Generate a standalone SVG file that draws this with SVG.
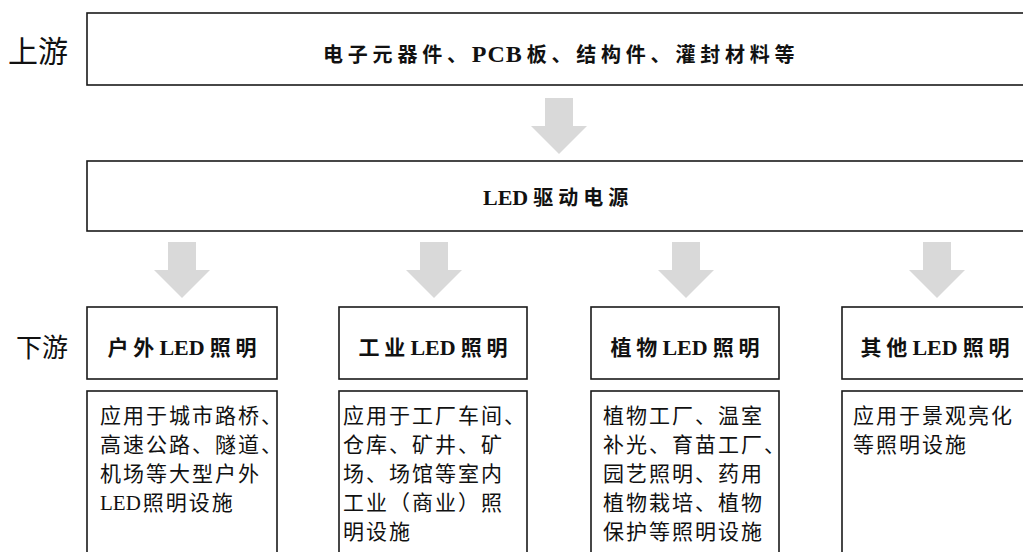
<svg xmlns="http://www.w3.org/2000/svg" width="1023" height="552" viewBox="0 0 1023 552">
<style>
.box{fill:#fff;stroke:#1a1a1a;stroke-width:1.6}
.arr{fill:#d9d9d9}
.side{font-family:"Noto Sans CJK SC",sans-serif;fill:#111}
.hd{font-family:"Liberation Serif","Noto Sans CJK SC",serif;font-weight:bold;font-size:20px;fill:#111}
.cat{font-family:"Liberation Serif","Noto Sans CJK SC",serif;font-weight:bold;font-size:21px;letter-spacing:5px;fill:#111;text-anchor:middle}
.desc{font-family:"Liberation Serif","Noto Sans CJK SC",serif;font-size:21px;letter-spacing:2px;fill:#111}
.lat{font-size:22px;letter-spacing:0}
.latl{font-size:22px}
</style>
<defs>
<path id="arrow" d="M-14,0 H14 V28 H28 L0,56 L-28,28 H-14 Z"/>
</defs>
<rect width="1023" height="552" fill="#fff"/>
<text class="side" x="8" y="62" font-size="30">上游</text>
<text class="side" x="16" y="357" font-size="26">下游</text>
<g id="upstream">
<rect class="box" x="87" y="13" width="1000" height="72"/>
<text class="hd" x="323" y="62" letter-spacing="4.8">电子元器件、<tspan font-size="24" letter-spacing="1">PC</tspan><tspan font-size="24">B</tspan>板、结构件、灌封材料等</text>
</g>
<g id="driver">
<rect class="box" x="87" y="161" width="1000" height="70"/>
<text class="hd" x="483" y="205" letter-spacing="5"><tspan class="lat">LE</tspan><tspan class="latl">D</tspan>驱动电源</text>
</g>
<g id="connectors">
<use href="#arrow" class="arr" x="559" y="98"/>
<use href="#arrow" class="arr" x="182" y="242"/>
<use href="#arrow" class="arr" x="434" y="242"/>
<use href="#arrow" class="arr" x="686" y="242"/>
<use href="#arrow" class="arr" x="937" y="242"/>
</g>
<g id="outdoor">
<rect class="box" x="87" y="307" width="190" height="72"/>
<text class="cat" x="184.5" y="355">户外<tspan class="lat">LE</tspan><tspan class="latl">D</tspan>照明</text>
<rect class="box" x="87" y="391" width="190" height="200"/>
<text class="desc" x="100" y="423">应用于城市路桥、</text>
<text class="desc" x="100" y="452">高速公路、隧道、</text>
<text class="desc" x="100" y="481">机场等大型户外</text>
<text class="desc" x="100" y="510"><tspan letter-spacing="0">LE</tspan>D照明设施</text>
</g>
<g id="industrial">
<rect class="box" x="339" y="307" width="188" height="72"/>
<text class="cat" x="435.5" y="355">工业<tspan class="lat">LE</tspan><tspan class="latl">D</tspan>照明</text>
<rect class="box" x="339" y="391" width="188" height="200"/>
<text class="desc" x="343" y="423">应用于工厂车间、</text>
<text class="desc" x="343" y="452">仓库、矿井、矿</text>
<text class="desc" x="343" y="481">场、场馆等室内</text>
<text class="desc" x="343" y="510">工业（商业）照</text>
<text class="desc" x="343" y="539">明设施</text>
</g>
<g id="plant">
<rect class="box" x="591" y="307" width="188" height="72"/>
<text class="cat" x="687.5" y="355">植物<tspan class="lat">LE</tspan><tspan class="latl">D</tspan>照明</text>
<rect class="box" x="591" y="391" width="188" height="200"/>
<text class="desc" x="603" y="423">植物工厂、温室</text>
<text class="desc" x="603" y="452">补光、育苗工厂、</text>
<text class="desc" x="603" y="481">园艺照明、药用</text>
<text class="desc" x="603" y="510">植物栽培、植物</text>
<text class="desc" x="603" y="539">保护等照明设施</text>
</g>
<g id="other">
<rect class="box" x="842" y="307" width="300" height="72"/>
<text class="cat" x="937.5" y="355">其他<tspan class="lat">LE</tspan><tspan class="latl">D</tspan>照明</text>
<rect class="box" x="842" y="391" width="300" height="200"/>
<text class="desc" x="853" y="423">应用于景观亮化</text>
<text class="desc" x="853" y="452">等照明设施</text>
</g>
</svg>
